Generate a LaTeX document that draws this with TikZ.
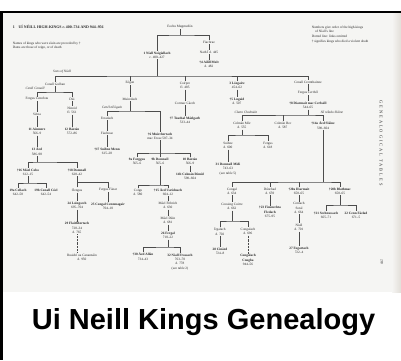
\documentclass[tikz,border=0pt]{standalone}
\usepackage{fontspec}
\setmainfont{Liberation Serif}
\newfontfamily\capfont{Liberation Sans}
\newfontfamily\spacedfont[LetterSpace=45]{Liberation Serif}
\usepackage{tikz}
\usepackage{xcolor}
\definecolor{pagegray}{RGB}{245,245,243}
\definecolor{pageedge}{RGB}{226,222,216}
\newcommand{\yr}[1]{{\mdseries#1}}

\begin{document}
\begin{tikzpicture}[x=1pt,y=-1pt,line width=0.45pt,
    per/.style={inner sep=0.6pt,align=center,text=black!85,font=\fontsize{3.4}{4.3}\selectfont},
    king/.style={per,font=\fontsize{3.4}{4.3}\selectfont\bfseries},
    lab/.style={per,font=\fontsize{3.4}{4.3}\selectfont\itshape},
    link/.style={draw=black!70},
    gap/.style={link,densely dotted}]
      \useasboundingbox (0,0) rectangle (401,360);
      \fill[white] (0,0) rectangle (401,360);
      \fill[pagegray] (2.5,12.5) rectangle (401,292);
      \shade[left color=pagegray,right color=pageedge] (392,12.5) rectangle (401,292);
      \fill[black] (0,10.5) rectangle (401,12.8);
      \fill[black] (0,10.5) rectangle (2.6,360);

      % page heading and notes
      \node [per,anchor=west,font=\fontsize{3.9}{4.4}\selectfont\bfseries] (title) at (12,27) {1\quad UÍ NÉILL HIGH-KINGS \textit{c.}\,400--734 AND 944--956};
      \node [per,anchor=north west,align=left] (note) at (12,41) {%
        Names of kings who were slain are preceded by †\\
        Dates are those of reign, or of death
      };
      \node [per,anchor=north west,align=left] (key) at (311,25) {%
        Numbers give order of the high-kings\\
        \quad of Níall's line\\[0.8pt]
        Dotted line: links omitted\\[0.8pt]
        † signifies kings who died a violent death
      };
      \node [per,rotate=-90,font=\spacedfont\fontsize{4.4}{5}\selectfont] (side) at (381,143) {GENEALOGICAL TABLES};
      \node [per,rotate=-90] (pageno) at (382,262) {283};

      % Eochu and his sons
      \node [per] (eochu) at (180,27) {Eochu Mugmedón};
      \node [king] (niall) at (157,55) {1 Níall Noígiallach\\ \yr{\textit{c.} 400--427}};
      \node [per] (fiachrae) at (209,42) {Fiachrae};
      \node [per] (nathi) at (209,52) {Nath Í d. 445};
      \node [king] (ailill) at (209,64.5) {†4 Ailill Molt\\ \yr{d. 482}};
      \node [lab] (sons) at (62,71.5) {Sons of Níall};

      % Cenel Conaill
      \node [per] (conall) at (55,84) {Conall Gulban};
      \node [lab] (cconaill) at (35,88.5) {Cenél Conaill};
      \node [per] (fergusc) at (37,99) {Fergus Cennfota};
      \node [per] (setna) at (37,114) {Sétna};
      \node [king] (ainmere) at (37,131.5) {11 Ainmere\\ \yr{566--9}};
      \node [king] (aed) at (37,151.5) {13 Áed\\ \yr{586--98}};
      \node [per] (dui) at (72,99) {Dúi};
      \node [per] (ninnid) at (72,110.5) {Ninnid\\ fl. 561};
      \node [king] (baetann) at (72,131.5) {12 Báetán\\ \yr{572--86}};
      \node [king] (maelcobo) at (28,172) {†16 Máel Cobo\\ \yr{612--15}};
      \node [king] (domnall) at (77,172) {†18 Domnall\\ \yr{628--42}};
      \node [king] (cellach) at (18,192) {19a Cellach\\ \yr{642--58}};
      \node [king] (conallc) at (46,192) {19b Conall Cóel\\ \yr{642--54}};
      \node [per] (oengus) at (77,190) {Óengus};
      \node [per] (fergusf) at (108,190) {Fergus Fánat};
      \node [king] (loingsech) at (77,205.5) {24 Loingsech\\ \yr{695--704}};
      \node [king] (flaith) at (77,228) {29 Flaithbertach\\ \yr{728--34}\\ \yr{d. 765}};
      \node [per] (ruaidri) at (82,257) {Ruaidrí ua Canannáin\\ d. 950};
      \node [king] (congalc) at (108,206.5) {25 Congal Cennmagair\\ \yr{704--10}};

      % Cenel nEogain
      \node [per] (eogan) at (130,83) {Eógan};
      \node [per] (muiredach) at (130,99) {Muiredach};
      \node [lab] (ceogain) at (112,107.5) {Cenél nEógain};
      \node [per] (feradach) at (107,118) {Feradach};
      \node [per] (fiachnae) at (107,133) {Fiachnae};
      \node [king] (suibnem) at (107,151) {†17 Suibne Menn\\ \yr{615--28}};
      \node [king] (muirch) at (160,136) {†6 Muirchertach\\ \yr{mac Ercae 507--34}};
      \node [king] (forggus) at (137,161.5) {9a Forggus\\ \yr{565--6}};
      \node [king] (domnallm) at (160,161.5) {9b Domnall\\ \yr{565--6}};
      \node [king] (baetanm) at (190,161.5) {10 Báetán\\ \yr{566--9}};
      \node [king] (colmanr) at (190,176) {14b Colmán Rímid\\ \yr{598--604}};
      \node [per] (colgu) at (138,192) {Colgu\\ d. 580};
      \node [king] (aedu) at (168,192) {†15 Áed Uaridnach\\ \yr{604--12}};
      \node [per] (maelf) at (168,205.5) {Máel Fithrich\\ d. 630};
      \node [per] (maeld) at (168,220.5) {Máel Dúin\\ d. 681};
      \node [king] (fergal) at (168,235.5) {26 Fergal\\ \yr{710--22}};
      \node [king] (aedallan) at (143,256.5) {†30 Áed Allán\\ \yr{734--43}};
      \node [king] (niallf) at (180,262) {32 Niall Frossach\\ \yr{763--70}\\ \yr{d. 778}\\ \yr{(see table 2)}};

      % Coirpre and Loegaire
      \node [per] (coirpre) at (185,85.5) {Coirpre\\ fl. 485};
      \node [per] (cormac) at (185,103) {Cormac Cáech};
      \node [king] (tuathal) at (185,120.5) {†7 Tuathal Máelgarb\\ \yr{533--44}};
      \node [king] (loegaire) at (237,85.5) {3 Lóegaire\\ \yr{454--62}};
      \node [king] (lugaid) at (237,101) {†5 Lugaid\\ \yr{d. 507}};

      % Conall Cremthainne
      \node [per] (concrem) at (308,82) {Conall Cremthainne};
      \node [per] (fergusce) at (308,93) {Fergus Cerrbél};
      \node [king] (diarmaitc) at (308,105.5) {†8 Diarmait mac Cerbaill\\ \yr{544--65}};
      \node [lab] (cholmain) at (246,112) {Clann Cholmáin};
      \node [lab] (slaine) at (332,112) {Síl nÁedo Sláine};
      \node [per] (colmanm) at (242,125.5) {Colmán Mór\\ d. 555};
      \node [per] (colmanb) at (283,125.5) {Colmán Bec\\ d. 587};
      \node [king] (aeds) at (323,125.5) {†14a Áed Sláine\\ \yr{598--604}};
      \node [per] (suibne) at (228,145.5) {Suibne\\ d. 600};
      \node [per] (fergusm) at (268,145.5) {Fergus\\ d. 618};
      \node [king] (dmidi) at (228,169) {31 Domnall Midi\\ \yr{743--63}\\ \yr{(see table 5)}};
      \node [per] (congal) at (232,191) {Congal\\ d. 634};
      \node [per] (dunchad) at (270,191) {Dúnchad\\ d. 659};
      \node [king] (diarmait) at (299,191) {†20a Diarmait\\ \yr{658--65}};
      \node [king] (blathmac) at (340,191) {†20b Blathmac\\ \yr{658--65}};
      \node [per] (conaing) at (232,206.5) {Conaing Cuirre\\ d. 662};
      \node [per] (irgalach) at (220,231.5) {Írgalach\\ d. 702};
      \node [per] (congalach) at (248,231.5) {Congalach\\ d. 696};
      \node [king] (cinaed) at (220,251.5) {28 Cináed\\ \yr{724--8}};
      \node [king] (cnogba) at (248,260) {Congalach\\ Cnogba\\ \yr{944--56}};
      \node [king] (finsnechta) at (270,212) {†23 Fínsnechta\\ Fledach\\ \yr{675--95}};
      \node [per] (cernach) at (299,208) {Cernach\\ Sotal\\ d. 664};
      \node [per] (niallc) at (299,227.5) {Niall\\ d. 701};
      \node [king] (fogartach) at (299,250.5) {27 Fogartach\\ \yr{722--4}};
      \node [king] (sechnussach) at (326,215) {†21 Sechnussach\\ \yr{665--71}};
      \node [king] (cennf) at (356,215) {22 Cenn Fáelad\\ \yr{671--5}};

      % junctions of the family bars
      \coordinate (j0) at (180,35);
      \coordinate (j1) at (157,76);
      \coordinate (j2) at (55,92);
      \coordinate (j3) at (37,162);
      \coordinate (j4) at (28,183);
      \coordinate (j5) at (77,182);
      \coordinate (j6) at (130,111);
      \coordinate (j7) at (160,153);
      \coordinate (j8) at (160,185);
      \coordinate (j9) at (168,247);
      \coordinate (j10) at (308,115);
      \coordinate (j11) at (242,135);
      \coordinate (j12) at (323,182);
      \coordinate (j13) at (232,221);
      \coordinate (j14) at (340,205);

      \draw [link] (eochu) -- (j0);
      \draw [link] (niall) |- (j0) -| (fiachrae);
      \draw [link] (fiachrae) -- (nathi) -- (ailill);
      \draw [link] (niall) -- (j1);
      \draw [link] (conall) |- (j1) -| (concrem);
      \foreach \n in {eogan,coirpre,loegaire}
        \draw [link] (\n) -- (\n |- j1);

      \draw [link] (conall) -- (j2);
      \draw [link] (fergusc) |- (j2) -| (dui);
      \draw [link] (fergusc) -- (setna) -- (ainmere) -- (aed);
      \draw [link] (dui) -- (ninnid) -- (baetann);
      \draw [link] (aed) -- (j3);
      \draw [link] (maelcobo) |- (j3) -| (domnall);
      \draw [link] (maelcobo) -- (j4);
      \draw [link] (cellach) |- (j4) -| (conallc);
      \draw [link] (domnall) -- (j5);
      \draw [link] (oengus) |- (j5) -| (fergusf);
      \draw [link] (oengus) -- (loingsech) -- (flaith);
      \draw [gap] (flaith) -- (flaith |- ruaidri.north);
      \draw [link] (fergusf) -- (congalc);

      \draw [link] (eogan) -- (muiredach) -- (j6);
      \draw [link] (feradach) |- (j6) -| (muirch);
      \draw [link] (feradach) -- (fiachnae) -- (suibnem);
      \draw [link] (muirch) -- (j7);
      \draw [link] (forggus) |- (j7) -| (baetanm);
      \draw [link] (domnallm) -- (j7);
      \draw [link] (baetanm) -- (colmanr);
      \draw [link] (domnallm) -- (j8);
      \draw [link] (colgu) |- (j8) -| (aedu);
      \draw [link] (aedu) -- (maelf) -- (maeld) -- (fergal) -- (j9);
      \draw [link] (aedallan) |- (j9) -| (niallf);

      \draw [link] (coirpre) -- (cormac) -- (tuathal);
      \draw [link] (loegaire) -- (lugaid);

      \draw [link] (concrem) -- (fergusce) -- (diarmaitc) -- (j10);
      \draw [link] (colmanm) |- (j10) -| (aeds);
      \draw [link] (colmanb) -- (colmanb |- j10);
      \draw [link] (colmanm) -- (j11);
      \draw [link] (suibne) |- (j11) -| (fergusm);
      \draw [link] (suibne) -- (dmidi);
      \draw [link] (aeds) -- (j12);
      \draw [link] (congal) |- (j12) -| (blathmac);
      \foreach \n in {dunchad,diarmait}
        \draw [link] (\n) -- (\n |- j12);
      \draw [link] (congal) -- (conaing) -- (j13);
      \draw [link] (irgalach) |- (j13) -| (congalach);
      \draw [link] (irgalach) -- (cinaed);
      \draw [gap] (congalach) -- (cnogba);
      \draw [link] (dunchad) -- (finsnechta);
      \draw [link] (diarmait) -- (cernach) -- (niallc) -- (fogartach);
      \draw [link] (blathmac) -- (j14);
      \draw [link] (sechnussach) |- (j14) -| (cennf);

      \node [font=\capfont\bfseries\fontsize{29}{30}\selectfont,anchor=base] (caption) at (203.5,329) {Ui Neill Kings Genealogy};
    \end{tikzpicture}
\end{document}
